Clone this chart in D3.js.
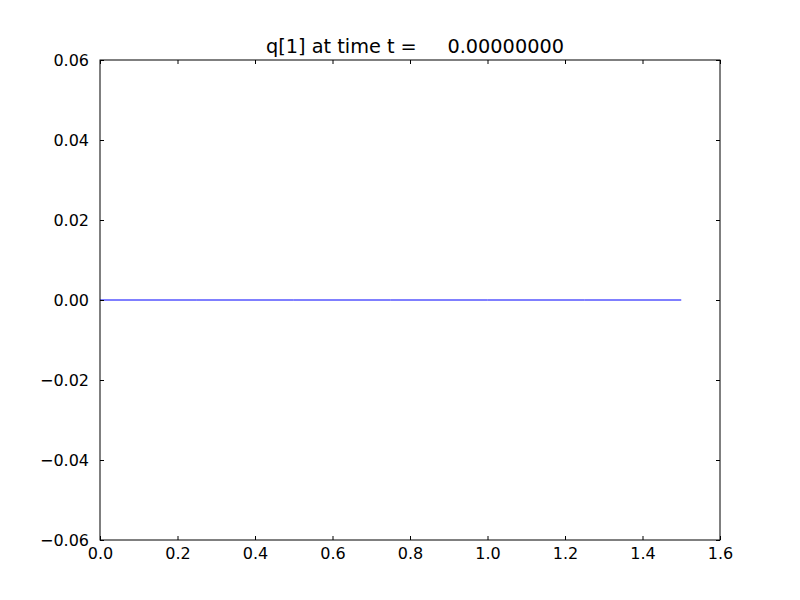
<!DOCTYPE html>
<html><head><meta charset="utf-8">
<script src="https://cdn.jsdelivr.net/npm/d3@7"></script>
<style>body{margin:0;background:#fff}svg{display:block}text{font-family:"DejaVu Sans",sans-serif}</style>
</head><body>
<svg id="c" width="800" height="600"></svg>
<script>
const titleText = "q[1] at time t =     0.00000000";
const xValues = [0, 0.25, 0.5, 0.75, 1.0, 1.25, 1.5];
const qValues = [0, 0, 0, 0, 0, 0, 0];
const xTicks = [0, 0.2, 0.4, 0.6, 0.8, 1.0, 1.2, 1.4, 1.6];
const yTicks = [-0.06, -0.04, -0.02, 0, 0.02, 0.04, 0.06];

const svg = d3.select("#c");
const m = {l:100, r:720, t:60, b:540};
const x = d3.scaleLinear().domain([0,1.6]).range([m.l, m.r]);
const y = d3.scaleLinear().domain([-0.06,0.06]).range([m.b, m.t]);
svg.append("rect").attr("width",800).attr("height",600).attr("fill","#fff");

const fmtY = d => (d<0?"\u2212":"") + Math.abs(d).toFixed(2);
const fmtX = d => d.toFixed(1);
const fs = "16px";

svg.append("path").datum(xValues.map((v,i)=>[v,qValues[i]]))
  .attr("fill","none").attr("stroke","#0000ff").attr("stroke-width",1)
  .attr("d", d3.line().x(d=>x(d[0])).y(d=>y(d[1])));

function styleAxis(g){ g.select(".domain").remove(); g.selectAll("line").attr("stroke","#000"); g.selectAll("text").attr("font-size",fs).attr("fill","#000").attr("font-family","DejaVu Sans"); }

svg.append("g").attr("transform",`translate(0,${m.b})`)
  .call(d3.axisBottom(x).tickValues(xTicks).tickFormat(fmtX).tickSizeInner(-4).tickSizeOuter(0).tickPadding(8))
  .call(styleAxis);
svg.append("g").attr("transform",`translate(0,${m.t})`)
  .call(d3.axisTop(x).tickValues(xTicks).tickFormat("").tickSizeInner(-4).tickSizeOuter(0))
  .call(styleAxis);
svg.append("g").attr("transform",`translate(${m.l},0)`)
  .call(d3.axisLeft(y).tickValues(yTicks).tickFormat(fmtY).tickSizeInner(-4).tickSizeOuter(0).tickPadding(11))
  .call(styleAxis);
svg.append("g").attr("transform",`translate(${m.r},0)`)
  .call(d3.axisRight(y).tickValues(yTicks).tickFormat("").tickSizeInner(-4).tickSizeOuter(0))
  .call(styleAxis);

svg.append("rect").attr("x",m.l).attr("y",m.t).attr("width",m.r-m.l).attr("height",m.b-m.t)
  .attr("fill","none").attr("stroke","#000").attr("stroke-width",1);

svg.append("text").attr("x",(m.l+m.r)/2+5).attr("y",53).attr("text-anchor","middle")
  .attr("font-size","19.3px").attr("fill","#000").style("white-space","pre").text(titleText);
</script>
</body></html>
